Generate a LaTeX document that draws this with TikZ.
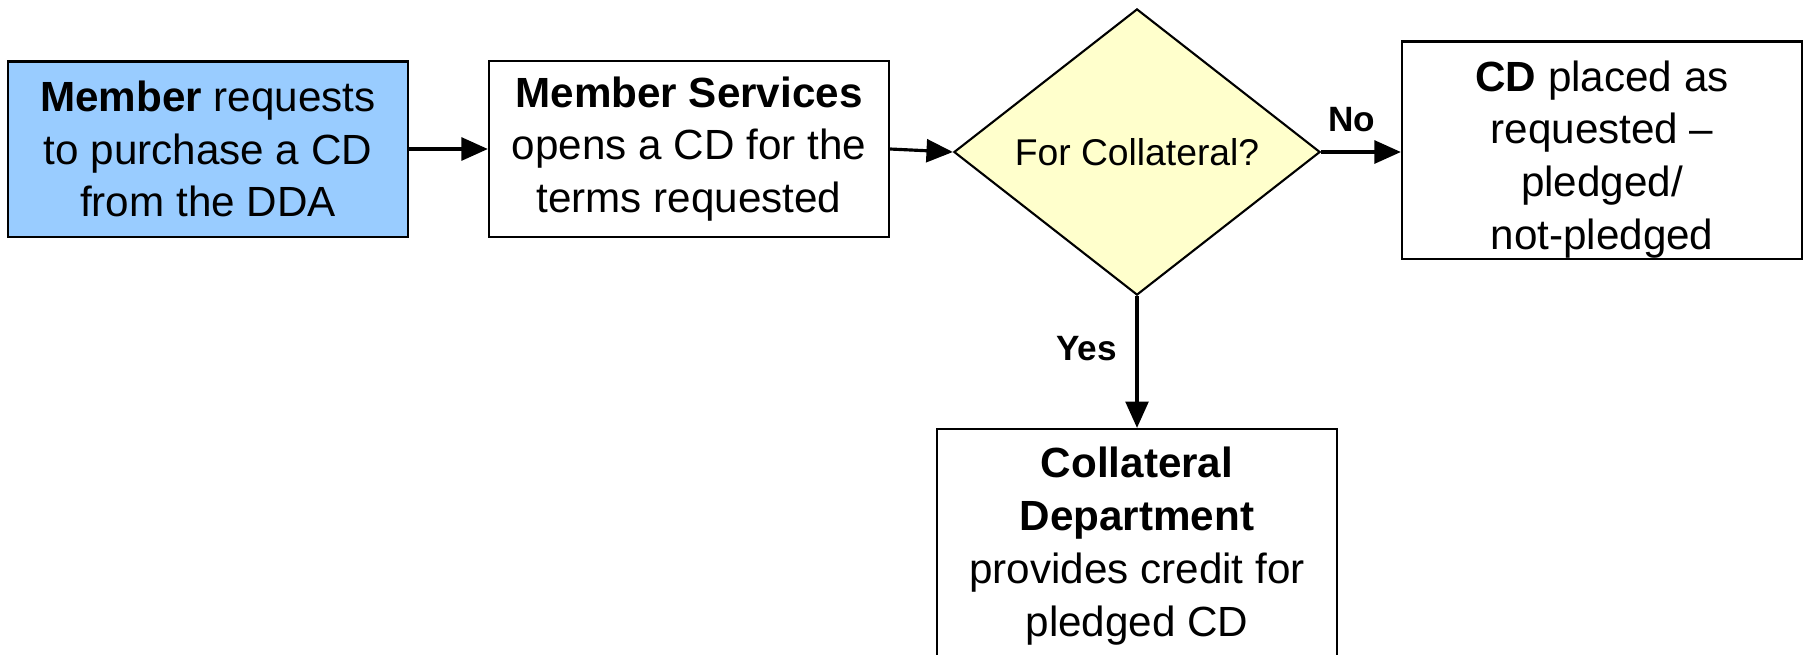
\documentclass[tikz,border=0pt]{standalone}
\usepackage{fontspec}
\setmainfont{Liberation Sans}
\definecolor{memberblue}{RGB}{153,204,255}
\definecolor{decisionyellow}{RGB}{255,255,204}
\usetikzlibrary{positioning, arrows.meta, shapes.geometric}

\begin{document}
\begin{tikzpicture}[x=0.01cm, y=-0.01cm,
  stepbox/.style={draw=black, line width=0.6pt, align=center,
    minimum width=4.0cm, font=\fontsize{12}{15}\selectfont},
  decision/.style={diamond, draw=black, line width=0.6pt, fill=decisionyellow,
    minimum width=3.66cm, minimum height=2.86cm, inner sep=0pt,
    font=\fontsize{10.6}{12}\selectfont},
  flow/.style={line width=0.9pt, -{Triangle[length=7.5pt, width=6.5pt]}},
  lbl/.style={font=\fontsize{10}{12}\selectfont\bfseries},
]
\useasboundingbox (0,0) rectangle (1807,654);

% Process boxes
\node[stepbox, fill=memberblue, minimum height=1.75cm]
  (member) at (208,149) {\textbf{Member} requests\\to purchase a CD\\from the DDA};
\node[stepbox, fill=white, minimum height=1.76cm]
  (services) at (689,149) {\textbf{Member Services}\\opens a CD for the\\terms requested};
\node[decision] (collat) at (1137,152) {For Collateral?};
\node[stepbox, fill=white, inner ysep=0pt, minimum height=2.17cm]
  (placed) at (1602,150) {\rule{0pt}{14pt}\textbf{CD} placed as\\requested --\\pledged/\\not-pledged};
\node[stepbox, fill=white, minimum height=2.34cm]
  (dept) at (1137,546) {\textbf{Collateral}\\\textbf{Department}\\provides credit for\\pledged CD};

% Connectors
\draw[flow] (member) -- (services);
\draw[flow] (services.east) -- (collat.west);
\draw[flow] (collat.east) -- (placed.west |- collat.east)
  node[lbl, pos=.38, above=2pt] (no) {No};
\draw[flow] (collat.south) -- (dept.north)
  node[lbl, pos=.4, left=2pt] (yes) {Yes};
\end{tikzpicture}
\end{document}
